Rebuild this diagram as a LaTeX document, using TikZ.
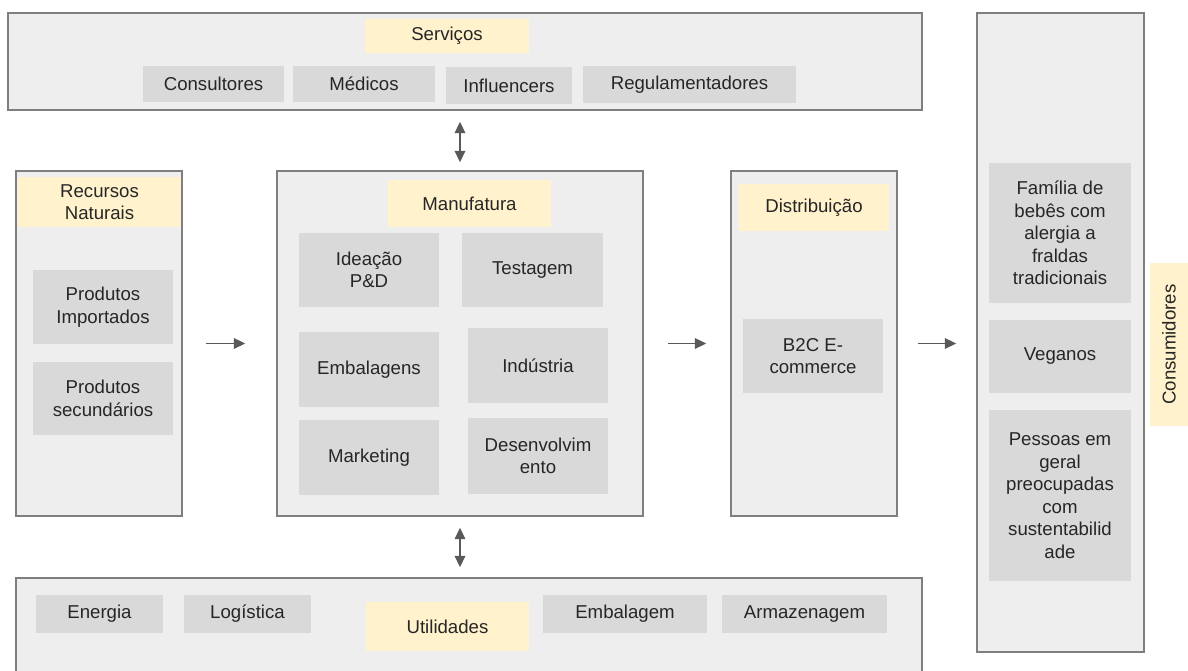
\documentclass[tikz,border=0pt]{standalone}
\usepackage{fontspec}
\setmainfont{Liberation Sans}
\usepackage{xcolor}
\usepackage{tikz}
\usetikzlibrary{arrows.meta, positioning, calc}
\definecolor{BoxGray}{HTML}{EEEEEE}
\definecolor{EdgeGray}{HTML}{7F7F7F}
\definecolor{ItemGray}{HTML}{D9D9D9}
\definecolor{LblYellow}{HTML}{FFF2CC}
\definecolor{TxtGray}{HTML}{262626}
\definecolor{ArrGray}{HTML}{595959}

\begin{document}
\begin{tikzpicture}[x=0.02cm, y=-0.02cm,
    font=\fontsize{10.6}{12.8}\selectfont, text=TxtGray,
    sz/.style 2 args={minimum width=#1*0.02cm, minimum height=#2*0.02cm},
    secbox/.style={fill=BoxGray, draw=EdgeGray, line width=0.8pt, inner sep=0pt},
    itembox/.style={fill=ItemGray, align=center, inner sep=0pt},
    lblbox/.style={fill=LblYellow, align=center, inner sep=0pt},
    flow/.style={draw=ArrGray, line width=1.1pt, -{Triangle[length=2.3mm, width=2.1mm]}},
    flow2/.style={draw=ArrGray, line width=1.1pt, {Triangle[length=2.3mm, width=2.1mm]}-{Triangle[length=2.3mm, width=2.1mm]}}]
    \useasboundingbox (0,0) rectangle (1188,671);
    \clip (0,0) rectangle (1188,671);

    % Serviços
    \node[secbox, sz={914}{97}] (serv) at (465,61.5) {};
    \node[lblbox, sz={164}{34}] (servlbl) at (447,36) {Serviços};
    \node[itembox, sz={141}{36}] (consult) at (213.5,84) {Consultores};
    \node[itembox, sz={142}{36}] (medicos) at (364,84) {Médicos};
    \node[itembox, sz={126}{37}] (influ) at (509,85.5) {Influencers};
    \node[itembox, sz={213}{37}] (regul) at (689.5,84.5) {Regulamentadores};

    % Recursos Naturais
    \node[secbox, sz={166}{345}] (rec) at (99,343.5) {};
    \node[lblbox, sz={163}{50}] (reclbl) at (99.5,202) {Recursos\\Naturais};
    \node[itembox, sz={140}{74}] (prodimp) at (103,307) {Produtos\\Importados};
    \node[itembox, sz={140}{73}] (prodsec) at (103,398.5) {Produtos\\secundários};

    % Manufatura
    \node[secbox, sz={366}{345}] (manu) at (460,343.5) {};
    \node[lblbox, sz={163}{47}] (manulbl) at (469.5,203.5) {Manufatura};
    \node[itembox, sz={140}{74}] (ideacao) at (369,270) {Ideação\\P\&D};
    \node[itembox, sz={141}{74}] (testagem) at (532.5,270) {Testagem};
    \node[itembox, sz={140}{75}] (embalagens) at (369,369.5) {Embalagens};
    \node[itembox, sz={140}{75}] (industria) at (538,365.5) {Indústria};
    \node[itembox, sz={140}{75}] (marketing) at (369,457.5) {Marketing};
    \node[itembox, sz={140}{76}] (desenv) at (538,456) {Desenvolvim\\ento};

    % Distribuição
    \node[secbox, sz={166}{345}] (dist) at (814,343.5) {};
    \node[lblbox, sz={150}{47}] (distlbl) at (814,207.5) {Distribuição};
    \node[itembox, sz={140}{74}] (b2c) at (813,356) {B2C E-\\commerce};

    % Consumidores
    \node[secbox, sz={167}{639}] (cons) at (1060.5,332.5) {};
    \node[itembox, sz={142}{140}] (familia) at (1060,233) {Família de\\bebês com\\alergia a\\fraldas\\tradicionais};
    \node[itembox, sz={142}{73}] (veganos) at (1060,356.5) {Veganos};
    \node[itembox, sz={142}{171}] (pessoas) at (1060,495.5) {Pessoas em\\geral\\preocupadas\\com\\sustentabilid\\ade};
    \node[lblbox, rotate=90, sz={163}{38}] (conslbl) at (1169,344.5) {Consumidores};

    % Utilidades
    \node[secbox, sz={906}{122}] (util) at (469,639) {};
    \node[itembox, sz={127}{38}] (energia) at (99.5,614) {Energia};
    \node[itembox, sz={127}{38}] (logistica) at (247.5,614) {Logística};
    \node[lblbox, sz={163}{49}] (utillbl) at (447.5,626.5) {Utilidades};
    \node[itembox, sz={164}{38}] (embalagem) at (625,614) {Embalagem};
    \node[itembox, sz={165}{38}] (armazen) at (804.5,614) {Armazenagem};

    % setas
    \draw[flow2, shorten <=0.22cm, shorten >=0.16cm] (serv.south -| manu.north) -- (manu.north);
    \draw[flow2, shorten <=0.22cm, shorten >=0.2cm] (manu.south) -- (manu.south |- util.north);
    \draw[flow, shorten <=0.46cm, shorten >=0.62cm] (rec.east) -- (manu.west);
    \draw[flow, shorten <=0.48cm, shorten >=0.48cm] (manu.east) -- (dist.west);
    \draw[flow, shorten <=0.4cm, shorten >=0.4cm] (dist.east) -- (dist.east -| cons.west);
\end{tikzpicture}
\end{document}
